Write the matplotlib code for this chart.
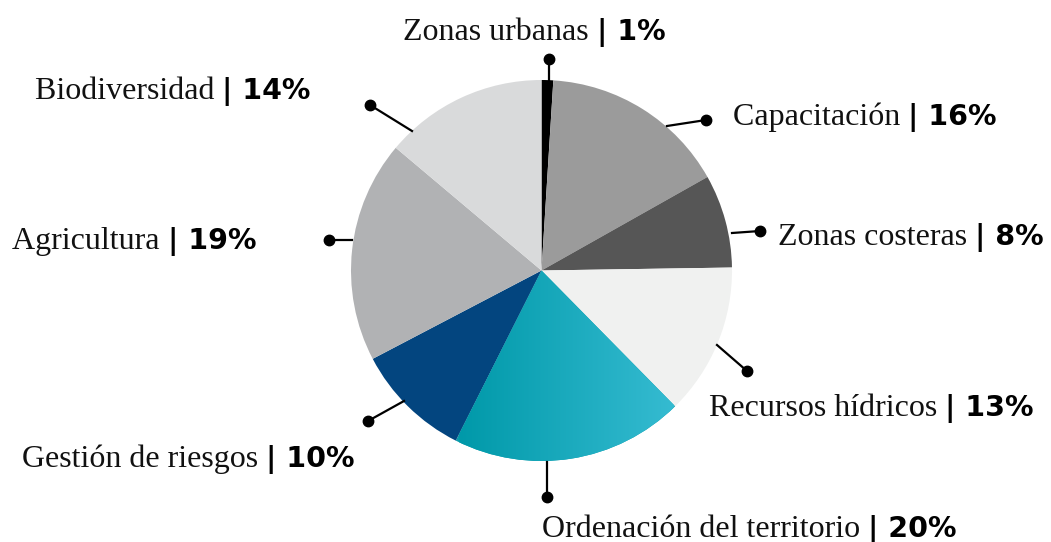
import numpy as np
import matplotlib.pyplot as plt
from matplotlib.colors import LinearSegmentedColormap

# Data
categories = ['Zonas urbanas', 'Capacitación', 'Zonas costeras', 'Recursos hídricos',
              'Ordenación del territorio', 'Gestión de riesgos', 'Agricultura', 'Biodiversidad']
shares = [1, 16, 8, 13, 20, 10, 19, 14]
colors = ['#000000', '#9b9b9b', '#565656', '#f0f1f0', '#0a9cac', '#03457f', '#b1b2b4', '#d9dadb']

# Layout (pixel coords, y from top)
W, H = 1051, 542
cx, cy, R = 541.5, 270.5, 190.5
label_pos = [(403, 40), (733, 125), (778, 245), (709, 416),
             (542, 537), (22, 467), (12, 249), (35, 99)]
leaders = [((549, 80), (549, 59)), ((667, 126), (706, 120)), ((732, 233), (760, 231)),
           ((717, 345), (747, 371)), ((547, 462), (547, 497)), ((404, 401), (368, 421)),
           ((352, 240), (329, 240)), ((412, 131), (370, 105))]


def Y(py):
    return H - py


fig = plt.figure(figsize=(W / 100, H / 100), dpi=100)
ax = fig.add_axes([0, 0, 1, 1])
wedges, _ = ax.pie(shares, colors=colors, startangle=90, counterclock=False,
                   center=(cx, Y(cy)), radius=R, wedgeprops=dict(linewidth=0))

# gradient fill for the teal slice
cmap = LinearSegmentedColormap.from_list('teal', ['#0099a9', '#35bbd1'])
grad = np.linspace(0, 1, 256).reshape(1, -1)
im = ax.imshow(grad, cmap=cmap, aspect='auto', extent=(459, 674, Y(462), Y(270)), zorder=2)
im.set_clip_path(wedges[4])
ax.set_xlim(0, W)
ax.set_ylim(0, H)
ax.set_aspect('equal')
ax.axis('off')

for (p0, p1) in leaders:
    ax.plot([p0[0], p1[0]], [Y(p0[1]), Y(p1[1])], color='black', lw=1.6, zorder=3)
    ax.plot(p1[0], Y(p1[1]), 'o', color='black', ms=7.5, zorder=3)

names = []
for cat, (x, y) in zip(categories, label_pos):
    t = ax.text(x, Y(y), cat + ' ', family='Liberation Serif', fontsize=23,
                va='baseline', ha='left', color='#111111')
    names.append(t)

fig.canvas.draw()
r = fig.canvas.get_renderer()
for t, s, (x, y) in zip(names, shares, label_pos):
    bb = t.get_window_extent(r)
    xe = ax.transData.inverted().transform((bb.x1, bb.y0))[0]
    ax.text(xe, Y(y), f'| {s}%', family='DejaVu Sans', fontweight='bold', fontsize=20.5,
            va='baseline', ha='left', color='black')

fig.savefig('out.png', dpi=100)
